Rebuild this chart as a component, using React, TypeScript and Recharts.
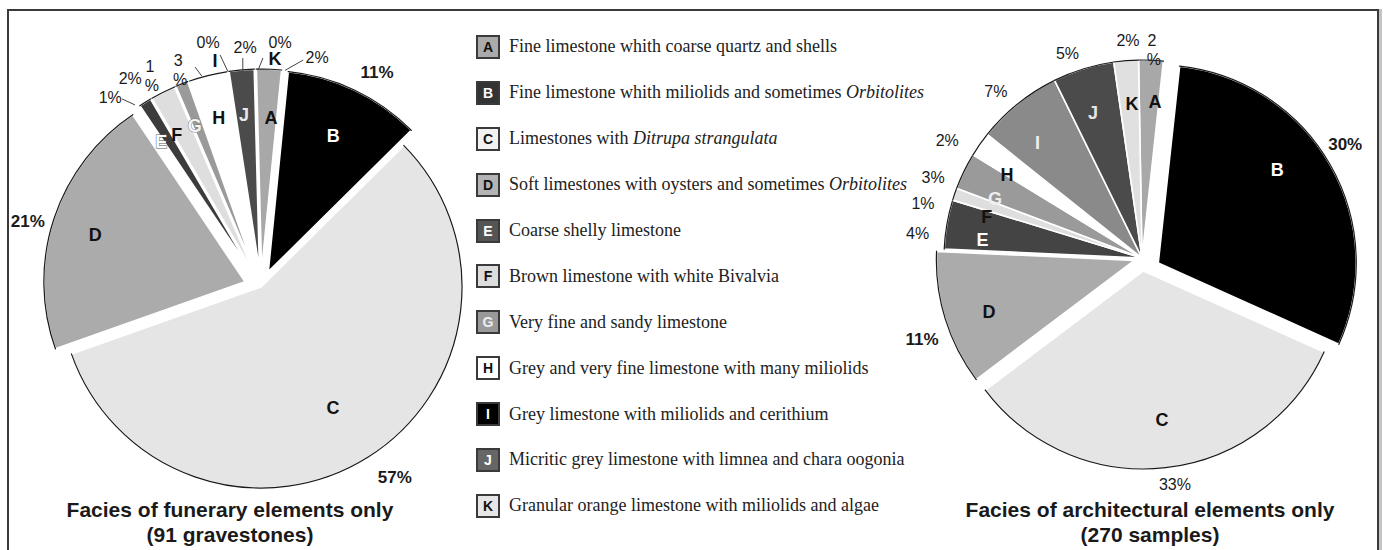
import React from 'react';
import { PieChart, Pie, Sector } from 'recharts';

// ---------- data ----------
const FACIES = ['A', 'B', 'C', 'D', 'E', 'F', 'G', 'H', 'I', 'J', 'K'];
const FUNERARY_PCT = [2, 11, 57, 21, 1, 2, 1, 3, 0, 2, 0];
const ARCHITECTURAL_PCT = [2, 30, 33, 11, 4, 1, 3, 2, 7, 5, 2];
const FACIES_TEXT = [
  'Fine limestone whith coarse quartz and shells',
  'Fine limestone whith miliolids and sometimes ',
  'Limestones with ',
  'Soft limestones with oysters and sometimes ',
  'Coarse shelly limestone',
  'Brown limestone with white Bivalvia',
  'Very fine and sandy limestone',
  'Grey and very fine limestone with many miliolids',
  'Grey limestone with miliolids and cerithium',
  'Micritic grey limestone with limnea and chara oogonia',
  'Granular orange limestone with miliolids and algae',
];
const FACIES_ITALIC = ['', 'Orbitolites', 'Ditrupa strangulata', 'Orbitolites', '', '', '', '', '', '', ''];
const FUNERARY_TITLE = ['Facies of funerary elements only', '(91 gravestones)'];
const ARCHITECTURAL_TITLE = ['Facies of architectural elements only', '(270 samples)'];

const funeraryData = FACIES.map((name, i) => ({ name, value: FUNERARY_PCT[i] }));
const architecturalData = FACIES.map((name, i) => ({ name, value: ARCHITECTURAL_PCT[i] }));

// ---------- styles ----------
const SANS = '"Liberation Sans", Arial, sans-serif';
const SERIF = '"Liberation Serif", "Times New Roman", serif';
const RAD = Math.PI / 180;

type PieStyle = {
  fills: string[];
  letterFill: string[];
  letterStroke: (string | null)[];
  explode: number[];
  explodeDir: (number | null)[]; // clockwise from 12 o'clock, null = along bisector
  letter: [number, number][];
  pct: [number, number][];
  pctBold: boolean[];
  pctWrap: boolean[];
  leader: ([number, number, number, number] | null)[];
};

const N11 = [null, null, null, null, null, null, null, null, null, null, null];

const LEFT: PieStyle = {
  fills: ['#a8a8a8', '#000000', '#e5e5e5', '#ababab', '#3c3c3c', '#dedede', '#9a9a9a', '#ffffff', '#000000', '#4b4b4b', '#e0e0e0'],
  letterFill: ['#111', '#fff', '#111', '#111', '#fff', '#111', '#f4f4f4', '#111', '#111', '#e8e8e8', '#111'],
  letterStroke: [null, null, null, null, '#555', null, '#777', null, null, null, null],
  explode: [17, 17, 0, 17, 17, 17, 17, 17, 17, 17, 17],
  explodeDir: N11,
  letter: [[0.76, 1.4], [0.75, 0], [0.7, 1.3], [0.78, -1], [0.79, -2.7], [0.78, -2.5], [0.78, -1.2], [0.78, 0], [1.065, -3], [0.775, -0.6], [1.05, 5.4]],
  pct: [[1.095, 12.5], [1.127, 3.2], [1.16, -2.9], [1.12, -2.9], [1.12, -6.9], [1.14, -5.8], [1.146, -5.8], [1.118, -6.4], [1.158, -3.8], [1.112, 1.4], [1.138, 6.4]],
  pctBold: [false, true, true, true, false, false, false, false, false, false, false],
  pctWrap: [false, false, false, false, false, false, true, true, false, false, false],
  leader: [
    [1.0, 4.6, 1.065, 9.1], null, null, null,
    [1.017, -2.8, 1.079, -4.7], null, null,
    [1.005, -1.7, 1.058, -2.8],
    [0.998, 0, 1.088, -1.4],
    [0.99, 0.3, 1.058, 0.6],
    [0.995, 0.8, 1.055, 2.15],
  ],
};

const RIGHT: PieStyle = {
  fills: ['#a8a8a8', '#000000', '#e5e5e5', '#ababab', '#444444', '#dedede', '#9a9a9a', '#ffffff', '#8a8a8a', '#4b4b4b', '#e0e0e0'],
  letterFill: ['#111', '#fff', '#111', '#111', '#fff', '#111', '#eee', '#111', '#eee', '#e4e4e4', '#111'],
  letterStroke: N11,
  explode: [0, 17, 13, 8, 0, 0, 0, 0, 0, 0, 0],
  explodeDir: [null, 107, null, null, null, null, null, null, null, null, null],
  letter: [[0.79, 2.2], [0.763, -8.2], [0.76, -0.7], [0.78, -2.5], [0.81, -3.4], [0.81, -4.1], [0.8, -4.1], [0.8, -3.4], [0.786, -3.4], [0.775, -1.4], [0.78, 0.9]],
  pct: [[1.1, 0], [1.117, -2.5], [1.09, -2], [1.145, -3.3], [1.14, -3.5], [1.14, -4.8], [1.13, -5], [1.15, -3.8], [1.12, -2.4], [1.1, -2.8], [1.1, 0.9]],
  pctBold: [false, true, false, true, false, false, false, false, false, false, false],
  pctWrap: [true, false, false, false, false, false, false, false, false, false, false],
  leader: N11,
};

const LEGEND_FILL = ['#aaaaaa', '#333333', '#f2f2f2', '#b4b4b4', '#555555', '#dddddd', '#999999', '#ffffff', '#000000', '#666666', '#e6e6e6'];
const LEGEND_TEXT = ['#111', '#fff', '#111', '#111', '#fff', '#111', '#eee', '#111', '#fff', '#fff', '#111'];

const idxOf = (p: any) => FACIES.indexOf(p.name ?? (p.payload && p.payload.name));

function explodedCenter(st: PieStyle, i: number, cx: number, cy: number, midAngle: number) {
  const d = st.explode[i] || 0;
  const dir = st.explodeDir[i];
  const a = dir == null ? midAngle : 90 - dir;
  return [cx + d * Math.cos(a * RAD), cy - d * Math.sin(a * RAD)];
}

function makeShape(st: PieStyle) {
  return (props: any) => {
    const { cx, cy, outerRadius, startAngle, endAngle, midAngle } = props;
    const i = idxOf(props);
    const [ox, oy] = explodedCenter(st, i, cx, cy, midAngle);
    return (
      <g>
        <Sector cx={ox} cy={oy} innerRadius={0} outerRadius={outerRadius} startAngle={startAngle} endAngle={endAngle} fill={st.fills[i]} stroke="#ffffff" strokeWidth={1.6} />
        <Sector cx={ox} cy={oy} innerRadius={outerRadius - 0.001} outerRadius={outerRadius} startAngle={startAngle} endAngle={endAngle} fill="none" stroke="#1a1a1a" strokeWidth={1.2} />
      </g>
    );
  };
}

function makeLabel(st: PieStyle) {
  return (props: any) => {
    const { cx, cy, midAngle, outerRadius, value } = props;
    const i = idxOf(props);
    const [ox, oy] = explodedCenter(st, i, cx, cy, midAngle);
    const pt = (k: number, da: number) => {
      const a = (midAngle - da) * RAD;
      return [ox + k * outerRadius * Math.cos(a), oy - k * outerRadius * Math.sin(a)];
    };
    const [lx, ly] = pt(st.letter[i][0], st.letter[i][1]);
    const [px, py] = pt(st.pct[i][0], st.pct[i][1]);
    const ld = st.leader[i];
    const stroke = st.letterStroke[i];
    return (
      <g key={`lab-${i}`}>
        {ld && (() => {
          const [x1, y1] = pt(ld[0], ld[1]);
          const [x2, y2] = pt(ld[2], ld[3]);
          return <line x1={x1} y1={y1} x2={x2} y2={y2} stroke="#444" strokeWidth={1} />;
        })()}
        <text x={lx} y={ly} textAnchor="middle" dominantBaseline="central" fontFamily={SANS} fontWeight="bold" fontSize={18}
          fill={st.letterFill[i]} stroke={stroke || 'none'} strokeWidth={stroke ? 0.9 : 0} paintOrder="stroke">
          {FACIES[i]}
        </text>
        {st.pctWrap[i] ? (
          <text x={px} y={py} textAnchor="middle" dominantBaseline="central" fontFamily={SANS} fontSize={16} fill="#1a1a1a">
            <tspan x={px}>{value}</tspan>
            <tspan x={px + 2} dy={19}>%</tspan>
          </text>
        ) : (
          <text x={px} y={py} textAnchor="middle" dominantBaseline="central" fontFamily={SANS}
            fontWeight={st.pctBold[i] ? 'bold' : 'normal'} fontSize={st.pctBold[i] ? 17 : 16} fill="#1a1a1a">
            {`${value}%`}
          </text>
        )}
      </g>
    );
  };
}

function Legend() {
  return (
    <div style={{ position: 'absolute', left: 476, top: 24, width: 460 }}>
      {FACIES.map((f, i) => (
        <div key={f} style={{ height: 45.9, display: 'flex', alignItems: 'center' }}>
          <div style={{
            width: 20, height: 20, border: '2px solid #3a3a3a', background: LEGEND_FILL[i], color: LEGEND_TEXT[i],
            fontFamily: SANS, fontWeight: 'bold', fontSize: 14, display: 'flex', alignItems: 'center', justifyContent: 'center', lineHeight: 1,
          }}>{f}</div>
          <div style={{ marginLeft: 9, fontFamily: SERIF, fontSize: 18, color: '#222', whiteSpace: 'nowrap' }}>
            {FACIES_TEXT[i]}{FACIES_ITALIC[i] && <i>{FACIES_ITALIC[i]}</i>}
          </div>
        </div>
      ))}
    </div>
  );
}

export default function App() {
  return (
    <div style={{ position: 'absolute', left: 0, top: 0, width: 1383, height: 550, background: '#fff', overflow: 'hidden' }}>
      <div style={{ position: 'absolute', left: 7, top: 9, width: 1368, height: 600, border: '2px solid #3a3a3a', boxShadow: '3px 0 0 #c4c4c4' }} />
      <div style={{ position: 'absolute', left: 0, top: 0 }}>
        <PieChart width={1383} height={550} margin={{ top: 0, right: 0, bottom: 0, left: 0 }}>
          <Pie data={funeraryData} dataKey="value" nameKey="name" cx={261} cy={287} outerRadius={201}
            startAngle={91.5} endAngle={-268.5} stroke="#fff" shape={makeShape(LEFT)} label={makeLabel(LEFT)} labelLine={false}
            isAnimationActive={false} />
          <Pie data={architecturalData} dataKey="value" nameKey="name" cx={1142} cy={258} outerRadius={198}
            startAngle={91} endAngle={-269} stroke="#fff" shape={makeShape(RIGHT)} label={makeLabel(RIGHT)} labelLine={false}
            isAnimationActive={false} />
        </PieChart>
      </div>
      <Legend />
      <svg width={1383} height={550} style={{ position: 'absolute', left: 0, top: 0, pointerEvents: 'none' }}>
        {[[FUNERARY_TITLE, 230], [ARCHITECTURAL_TITLE, 1150]].map(([t, x]: any, k) => (
          <text key={k} textAnchor="middle" fontFamily={SANS} fontWeight="bold" fontSize={21} fill="#1a1a1a">
            <tspan x={x} y={516.5}>{t[0]}</tspan>
            <tspan x={x} y={542}>{t[1]}</tspan>
          </text>
        ))}
      </svg>
    </div>
  );
}
